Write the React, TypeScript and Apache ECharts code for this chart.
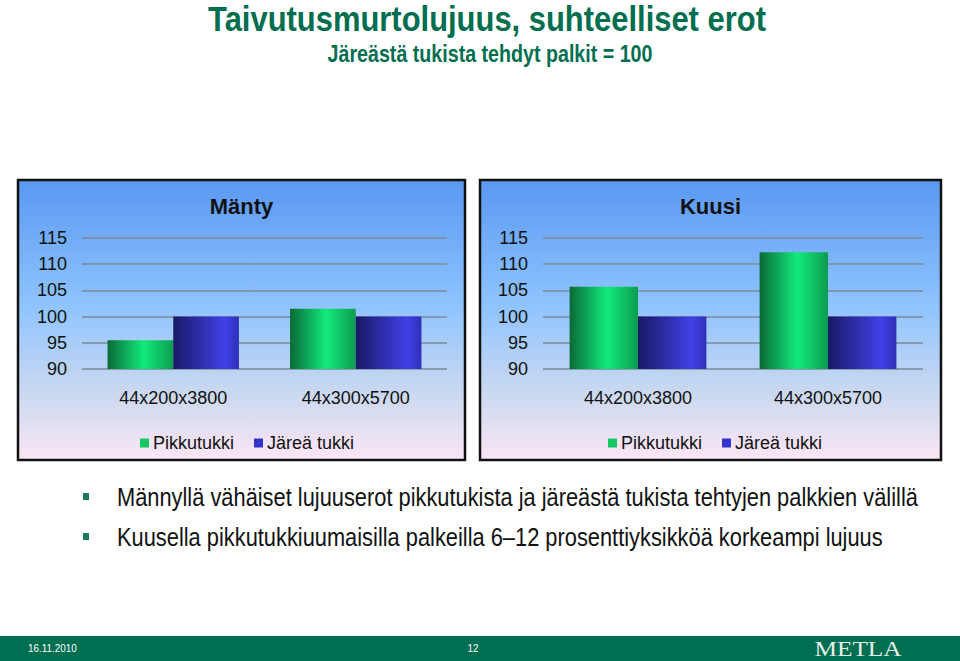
import React, { useEffect, useRef } from "react";
import * as echarts from "echarts";

const categories = ["44x200x3800", "44x300x5700"];
const seriesNames = ["Pikkutukki", "Järeä tukki"];
const mantyPikku = [95.5, 101.5];
const mantyJarea = [100, 100];
const kuusiPikku = [105.7, 112.3];
const kuusiJarea = [100, 100];
const yTicks = { min: 90, max: 115, interval: 5 };
const panelTitles = ["Mänty", "Kuusi"];
const mainTitle = "Taivutusmurtolujuus, suhteelliset erot";
const subTitle = "Järeästä tukista tehdyt palkit = 100";
const bullets = [
  "Männyllä vähäiset lujuuserot pikkutukista ja järeästä tukista tehtyjen palkkien välillä",
  "Kuusella pikkutukkiuumaisilla palkeilla 6–12 prosenttiyksikköä korkeampi lujuus",
];
const footerDate = "16.11.2010";
const footerPage = "12";
const footerLogo = "METLA";

const SANS = "'Liberation Sans', Arial, sans-serif";
const DARKGREEN = "#006e4f";

const greenGrad = new echarts.graphic.LinearGradient(0, 0, 1, 0, [
  { offset: 0, color: "#0a6a36" },
  { offset: 0.55, color: "#12ea7c" },
  { offset: 1, color: "#0c9c50" },
]);
const blueGrad = new echarts.graphic.LinearGradient(0, 0, 1, 0, [
  { offset: 0, color: "#191966" },
  { offset: 0.78, color: "#4040e8" },
  { offset: 1, color: "#3030b8" },
]);
const panelGrad = () =>
  new echarts.graphic.LinearGradient(0, 0, 0, 1, [
    { offset: 0, color: "#5a98f2" },
    { offset: 0.45, color: "#8fc4fe" },
    { offset: 0.75, color: "#c8d8f0" },
    { offset: 1, color: "#fce6f4" },
  ]);

export default function App() {
  const ref = useRef<HTMLDivElement>(null);
  useEffect(() => {
    if (!ref.current) return;
    const chart = echarts.init(ref.current, null, { renderer: "svg" });
    const panels = [
      { x: 18, y: 180, w: 447, h: 280, gridLeft: 82, gridRight: 447 },
      { x: 480, y: 180, w: 461, h: 280, gridLeft: 543, gridRight: 923 },
    ];
    const data = [
      [mantyPikku, mantyJarea],
      [kuusiPikku, kuusiJarea],
    ];
    const grids = panels.map((p) => ({
      left: p.gridLeft,
      width: p.gridRight - p.gridLeft,
      top: 238,
      height: 131,
    }));
    const xAxes = panels.map((_, i) => ({
      type: "category",
      gridIndex: i,
      data: categories,
      axisLine: { show: false },
      axisTick: { show: false },
      axisLabel: { fontSize: 18, color: "#111", fontFamily: SANS, margin: 20 },
    }));
    const yAxes = panels.map((_, i) => ({
      type: "value",
      gridIndex: i,
      min: yTicks.min,
      max: yTicks.max,
      interval: yTicks.interval,
      axisLine: { show: false },
      axisTick: { show: false },
      axisLabel: { fontSize: 18, color: "#111", fontFamily: SANS, margin: 15 },
      splitLine: { lineStyle: { color: "#7d8a99", width: 1.5 } },
    }));
    const series: any[] = [];
    panels.forEach((_, i) => {
      series.push({
        type: "bar",
        name: seriesNames[0],
        xAxisIndex: i,
        yAxisIndex: i,
        data: data[i][0],
        barGap: "0%",
        barCategoryGap: "28%",
        itemStyle: { color: greenGrad },
        z: 3,
      });
      series.push({
        type: "bar",
        name: seriesNames[1],
        xAxisIndex: i,
        yAxisIndex: i,
        data: data[i][1],
        barGap: "0%",
        barCategoryGap: "28%",
        itemStyle: { color: blueGrad },
        z: 3,
      });
    });
    const legendLefts = [135, 603];
    const legends = legendLefts.map((l) => ({
      left: l,
      top: 429,
      icon: "rect",
      itemWidth: 9,
      itemHeight: 9,
      itemGap: 20,
      textStyle: { fontSize: 18, color: "#111", fontFamily: SANS, padding: [0, 0, 0, -1] },
      selectedMode: false,
      data: [
        { name: seriesNames[0], itemStyle: { color: "#14c864" } },
        { name: seriesNames[1], itemStyle: { color: "#3333cc" } },
      ],
    }));

    const graphics: any[] = [];
    panels.forEach((p, i) => {
      graphics.push({
        type: "rect",
        z: -10,
        shape: { x: p.x, y: p.y, width: p.w, height: p.h },
        style: { fill: panelGrad(), stroke: "#111", lineWidth: 2.5 },
      });
      graphics.push({
        type: "text",
        z: 10,
        x: p.x + p.w / 2,
        y: 206,
        style: {
          text: panelTitles[i],
          fill: "#111",
          font: `bold 22px ${SANS}`,
          textAlign: "center",
          textVerticalAlign: "middle",
        },
      });
    });
    graphics.push({
      type: "text",
      x: 487,
      y: 19,
      scaleX: 0.884,
      style: {
        text: mainTitle,
        fill: DARKGREEN,
        font: `bold 35px ${SANS}`,
        textAlign: "center",
        textVerticalAlign: "middle",
      },
    });
    graphics.push({
      type: "text",
      x: 490,
      y: 54,
      scaleX: 0.855,
      style: {
        text: subTitle,
        fill: DARKGREEN,
        font: `bold 23px ${SANS}`,
        textAlign: "center",
        textVerticalAlign: "middle",
      },
    });
    const bulletYs = [497, 537];
    bullets.forEach((b, i) => {
      graphics.push({
        type: "rect",
        shape: { x: 83, y: bulletYs[i] - 4, width: 6, height: 7 },
        style: { fill: "#1e7a52" },
      });
      graphics.push({
        type: "text",
        x: 117,
        y: bulletYs[i],
        scaleX: 0.84,
        style: {
          text: b,
          fill: "#111",
          font: `26px ${SANS}`,
          textAlign: "left",
          textVerticalAlign: "middle",
        },
      });
    });
    graphics.push({
      type: "rect",
      shape: { x: 0, y: 636, width: 960, height: 25 },
      style: { fill: "#006e50" },
    });
    graphics.push({
      type: "text",
      x: 28,
      y: 648,
      scaleX: 0.9,
      style: { text: footerDate, fill: "#fff", font: `11px ${SANS}`, textVerticalAlign: "middle" },
    });
    graphics.push({
      type: "text",
      x: 473,
      y: 648,
      scaleX: 0.9,
      style: { text: footerPage, fill: "#fff", font: `11px ${SANS}`, textAlign: "center", textVerticalAlign: "middle" },
    });
    graphics.push({
      type: "text",
      x: 858,
      y: 648.5,
      scaleX: 1.15,
      style: {
        text: footerLogo,
        fill: "#e8eeea",
        font: `22px 'Liberation Serif', 'Times New Roman', serif`,
        textAlign: "center",
        textVerticalAlign: "middle",
      },
    });

    chart.setOption({
      animation: false,
      backgroundColor: "#ffffff",
      grid: grids,
      xAxis: xAxes,
      yAxis: yAxes,
      legend: legends,
      series,
      graphic: { elements: graphics },
    });
    return () => chart.dispose();
  }, []);
  return (
    <div
      ref={ref}
      style={{ position: "fixed", left: 0, top: 0, width: 960, height: 661 }}
    />
  );
}
